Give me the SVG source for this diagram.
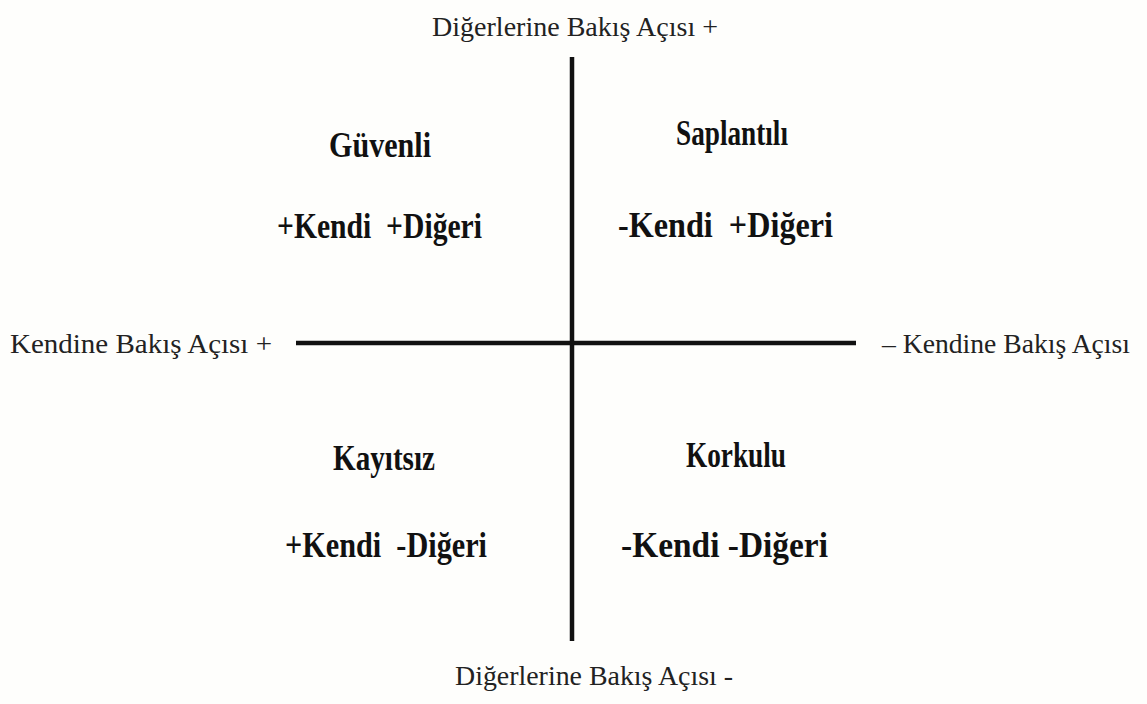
<svg xmlns="http://www.w3.org/2000/svg" width="1147" height="704" viewBox="0 0 1147 704">
<style>
.ax{font-family:"Liberation Serif","Times New Roman",serif;font-size:28px;fill:#222;}
.lb{font-family:"Liberation Serif","Times New Roman",serif;font-size:35px;font-weight:bold;fill:#111;}
.ln{stroke:#111;stroke-width:4.5;}
</style>
<rect width="1147" height="704" fill="#fefefc"/>
<g id="connectors">
<line class="ln" x1="572" y1="57" x2="572" y2="641"/>
<line class="ln" x1="296" y1="343" x2="856" y2="343"/>
</g>
<g id="axis-top"><text class="ax" x="432" y="36" textLength="286" lengthAdjust="spacingAndGlyphs">Diğerlerine Bakış Açısı +</text></g>
<g id="axis-bottom"><text class="ax" x="455" y="685" textLength="278" lengthAdjust="spacingAndGlyphs">Diğerlerine Bakış Açısı -</text></g>
<g id="axis-left"><text class="ax" x="10" y="353" textLength="262" lengthAdjust="spacingAndGlyphs">Kendine Bakış Açısı +</text></g>
<g id="axis-right"><text class="ax" x="882" y="353" textLength="248" lengthAdjust="spacingAndGlyphs">– Kendine Bakış Açısı</text></g>
<g id="guvenli">
<text class="lb" x="329" y="157" textLength="102" lengthAdjust="spacingAndGlyphs">Güvenli</text>
<text class="lb" x="277" y="238" textLength="205" lengthAdjust="spacingAndGlyphs" xml:space="preserve">+Kendi  +Diğeri</text>
</g>
<g id="saplantili">
<text class="lb" x="676" y="145" textLength="112" lengthAdjust="spacingAndGlyphs">Saplantılı</text>
<text class="lb" x="618" y="237" textLength="215" lengthAdjust="spacingAndGlyphs" xml:space="preserve">-Kendi  +Diğeri</text>
</g>
<g id="kayitsiz">
<text class="lb" x="333" y="470" textLength="102" lengthAdjust="spacingAndGlyphs">Kayıtsız</text>
<text class="lb" x="285" y="557" textLength="202" lengthAdjust="spacingAndGlyphs" xml:space="preserve">+Kendi  -Diğeri</text>
</g>
<g id="korkulu">
<text class="lb" x="686" y="467" textLength="100" lengthAdjust="spacingAndGlyphs">Korkulu</text>
<text class="lb" x="621" y="557" textLength="207" lengthAdjust="spacingAndGlyphs">-Kendi -Diğeri</text>
</g>
</svg>
